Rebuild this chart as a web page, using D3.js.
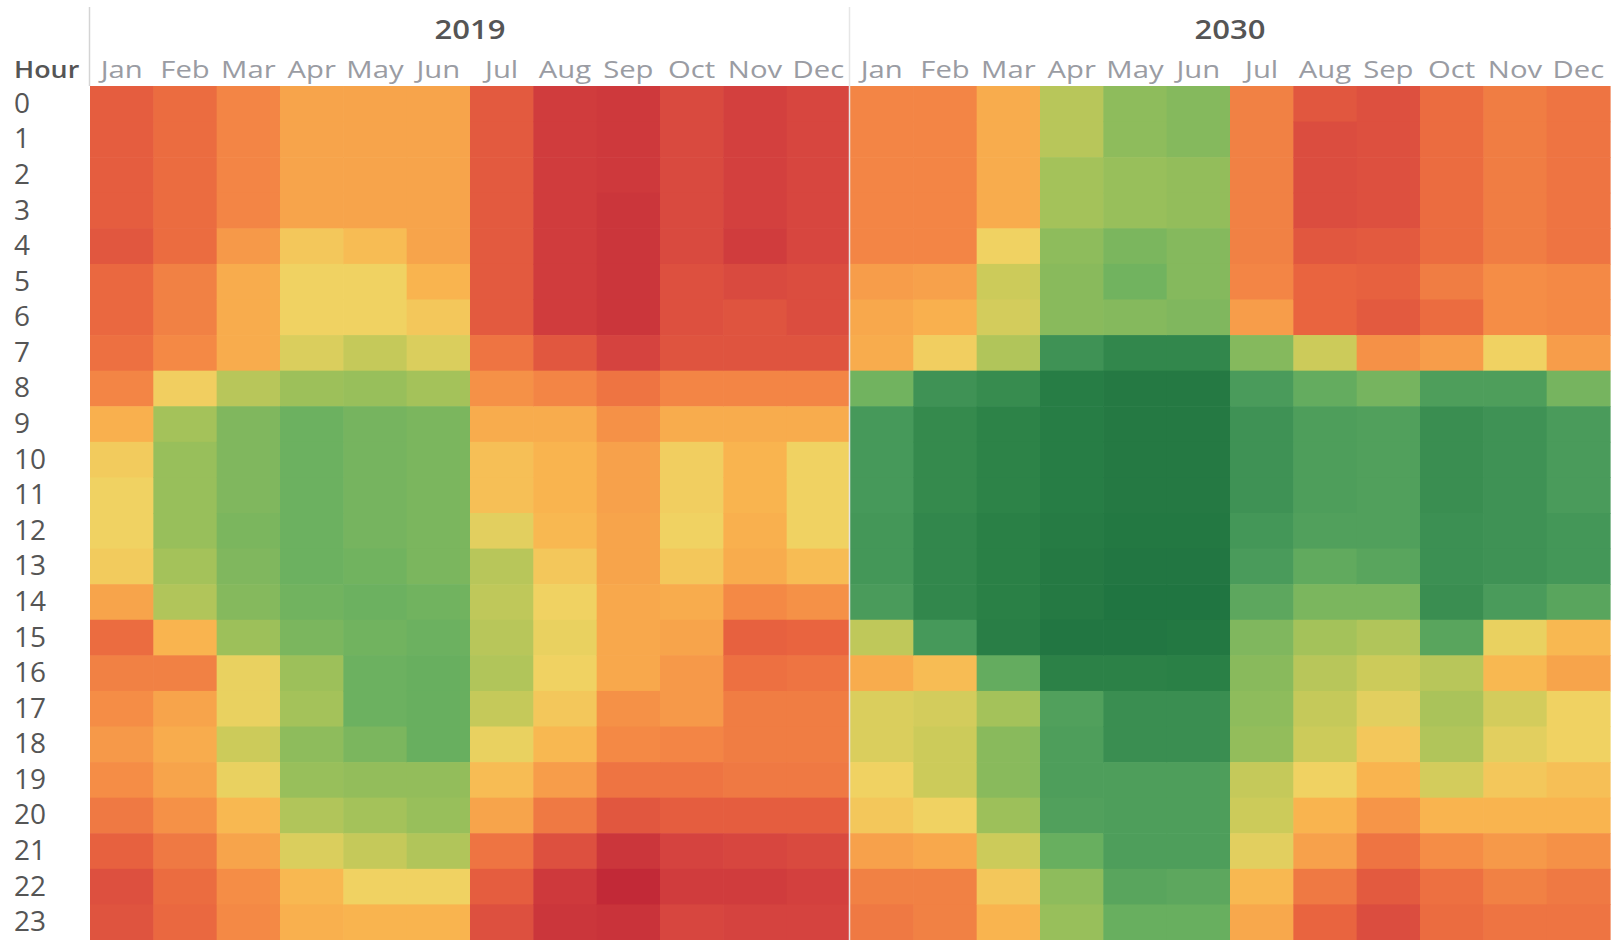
<!DOCTYPE html>
<html>
  <head>
    <meta charset="utf-8">
    <title>Hourly heatmap 2019 vs 2030</title>
    <script src="https://d3js.org/d3.v7.min.js"></script>
    <style>
      body { margin: 0; background: #fff; }
      text { font-family: "Open Sans", "Noto Sans", sans-serif; }
    </style>
  </head>
  <body>
    <div id="chart"></div>
    <script>
      var years = ["2019", "2030"];
      var months = ["Jan", "Feb", "Mar", "Apr", "May", "Jun", "Jul", "Aug", "Sep", "Oct", "Nov", "Dec"];
      var hours = d3.range(24);

      // one array per month, 24 hourly values (0 = greenest, 100 = reddest)
      var values2019 = [
        [82,82,82,82,84,79,79,77,72,61,54,52,52,54,64,78,73,70,67,70,75,81,86,85],
        [78,78,78,78,78,73,73,71,53,41,39,39,39,41,43,60,73,64,62,64,69,75,78,79],
        [72,72,72,72,67,62,62,62,44,34,34,34,33,34,35,40,51,51,47,51,59,64,70,71],
        [64,64,64,64,55,52,52,49,40,30,30,30,30,30,31,33,40,41,37,39,43,49,59,61],
        [64,64,64,64,58,52,52,46,39,32,32,32,32,31,30,31,30,30,33,38,41,46,52,60],
        [64,64,64,64,64,60,55,49,41,33,33,33,33,33,31,30,29,29,29,38,39,43,52,60],
        [83,83,83,83,83,83,83,76,69,62,57,57,50,44,45,44,43,46,51,58,64,76,82,86],
        [92,92,92,92,92,92,92,84,72,62,60,60,59,55,52,51,52,55,59,66,75,86,93,94],
        [93,93,93,94,94,94,94,90,76,69,65,65,64,64,63,63,63,69,71,76,84,94,98,95],
        [88,88,88,88,88,86,86,85,72,62,53,53,52,55,62,64,67,67,72,76,82,90,92,89],
        [91,91,91,91,92,88,85,85,72,62,60,60,61,62,71,81,77,74,74,75,82,89,92,90],
        [89,89,89,89,89,87,87,85,72,62,52,52,52,58,69,80,76,74,74,75,82,88,91,90]
      ];
      var values2030 = [
        [72,72,72,72,72,66,63,62,31,20,20,20,19,19,21,45,62,49,49,52,55,65,73,75],
        [72,72,72,72,72,65,61,53,17,13,13,13,12,12,12,20,58,48,47,47,52,63,73,73],
        [62,62,62,62,52,47,48,43,14,10,10,10,8,8,8,7,28,41,36,36,40,47,55,60],
        [44,44,41,41,37,36,36,17,6,6,6,6,5,4,4,2,9,23,22,22,23,29,37,39],
        [37,37,39,39,33,31,35,12,4,4,4,4,3,2,1,2,9,15,15,22,22,22,25,29],
        [35,35,38,38,35,35,34,12,4,4,4,4,3,2,1,3,8,15,15,22,22,22,26,29],
        [73,73,73,73,73,72,66,35,21,17,17,17,19,21,26,34,36,37,38,46,47,50,59,63],
        [84,87,87,87,84,80,80,47,28,22,22,22,23,27,33,41,44,46,47,52,60,65,75,80],
        [86,86,86,86,83,81,83,69,32,23,23,23,23,25,33,43,47,50,55,60,68,76,83,87],
        [78,78,78,78,78,74,78,66,22,15,15,15,16,16,15,25,44,42,43,48,60,70,77,78],
        [74,74,74,74,74,70,70,52,22,17,17,17,17,17,21,51,59,48,50,55,60,67,73,76],
        [76,76,76,76,76,71,71,66,32,21,21,21,19,19,25,59,64,52,52,57,60,69,75,76]
      ];

      var colorStops = [0, 10, 20, 30, 40, 47, 52, 60, 70, 80, 90, 100];
      var colorRange = ["#1f7340", "#2d8348", "#46995a", "#6cb160", "#9dc05a", "#cccb5a",
                        "#f0d262", "#f9b44f", "#f58d46", "#e9643f", "#d5433f", "#bd2235"];

      var cells = [];
      [values2019, values2030].forEach(function(vals, yi) {
        vals.forEach(function(col, mi) {
          col.forEach(function(v, h) {
            cells.push({year: years[yi], month: months[mi], hour: h, value: v});
          });
        });
      });

      var width = 1618, height = 940;
      var plotLeft = 90, plotRight = 1610, plotTop = 86, plotBottom = 940;

      var svg = d3.select("#chart").append("svg")
        .attr("width", width)
        .attr("height", height);

      var x0 = d3.scaleBand().domain(years).range([plotLeft, plotRight]);
      var x1 = d3.scaleBand().domain(months).range([0, x0.bandwidth()]);
      var y = d3.scaleBand().domain(hours).range([plotTop, plotBottom]);
      var color = d3.scaleLinear().domain(colorStops).range(colorRange).clamp(true);

      // cells
      svg.append("g").selectAll("rect")
        .data(cells)
        .enter().append("rect")
        .attr("x", function(d) { return x0(d.year) + x1(d.month); })
        .attr("y", function(d) { return y(d.hour); })
        .attr("width", x1.bandwidth() + 0.6)
        .attr("height", y.bandwidth() + 0.6)
        .attr("fill", function(d) { return color(d.value); });

      // panel dividers
      svg.append("g").selectAll("line")
        .data(years)
        .enter().append("line")
        .attr("x1", function(d) { return x0(d) - 0.5; })
        .attr("x2", function(d) { return x0(d) - 0.5; })
        .attr("y1", 7)
        .attr("y2", function(d, i) { return i === 0 ? plotTop : plotBottom; })
        .attr("stroke", function(d, i) { return i === 0 ? "#d4d4d4" : "#e6e6e6"; })
        .attr("stroke-width", 1.5);

      // year headers
      svg.append("g").selectAll("text")
        .data(years)
        .enter().append("text")
        .attr("transform", function(d) { return "translate(" + (x0(d) + x0.bandwidth() / 2) + ",39) scale(1.15,1)"; })
        .attr("text-anchor", "middle")
        .attr("font-size", 27)
        .attr("font-weight", 600)
        .attr("fill", "#555")
        .text(function(d) { return d; });

      // month axes
      years.forEach(function(yr) {
        var g = svg.append("g")
          .attr("transform", "translate(" + x0(yr) + "," + 78 + ")")
          .call(d3.axisTop(x1).tickSize(0).tickPadding(0));
        g.select(".domain").remove();
        g.selectAll("text")
          .attr("font-size", 24)
          .attr("font-family", "'Open Sans', sans-serif")
          .attr("fill", "#9a9ca3")
          .attr("dy", 0)
          .attr("transform", "scale(1.22,1)");
      });

      // hour axis
      var ya = svg.append("g")
        .attr("transform", "translate(14,0)")
        .call(d3.axisLeft(y).tickSize(0));
      ya.select(".domain").remove();
      ya.selectAll("text")
        .attr("x", 0)
        .attr("text-anchor", "start")
        .attr("font-size", 28)
        .attr("font-family", "'Open Sans', sans-serif")
        .attr("fill", "#555");

      svg.append("text")
        .attr("transform", "translate(14,78) scale(1.12,1)")
        .attr("font-size", 24)
        .attr("font-weight", 600)
        .attr("fill", "#555")
        .text("Hour");
    </script>
  </body>
</html>
